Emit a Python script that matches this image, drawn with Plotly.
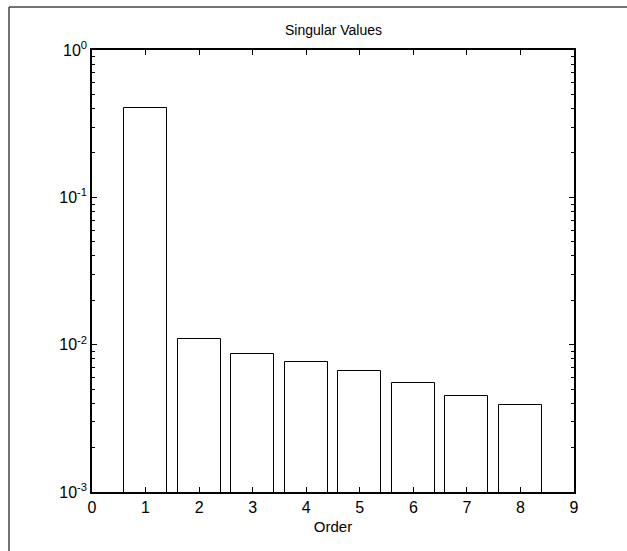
import plotly.graph_objects as go

# Singular values by order (log scale)
orders = [1, 2, 3, 4, 5, 6, 7, 8]
singular_values = [0.403, 0.0110, 0.00871, 0.00757, 0.00658, 0.00547, 0.00449, 0.00388]

y_tick_vals = [1e-3, 1e-2, 1e-1, 1e0]
y_tick_text = ["10<sup>-3</sup>", "10<sup>-2</sup>", "10<sup>-1</sup>", "10<sup>0</sup>"]
y_minor_vals = [m * d for d in (1e-3, 1e-2, 1e-1) for m in range(2, 10)]
x_tick_vals = list(range(0, 10))

W, H = 627, 551
ML, MR, MT, MB = 92, 53, 50, 59
PW, PH = W - ML - MR, H - MT - MB

font = dict(family="Liberation Sans, Arial, sans-serif", color="black")

fig = go.Figure(
    go.Bar(
        x=orders,
        y=singular_values,
        width=0.8,
        marker=dict(color="white", line=dict(color="black", width=1)),
    )
)

fig.update_layout(
    width=W,
    height=H,
    margin=dict(l=ML, r=MR, t=MT, b=MB, pad=0),
    paper_bgcolor="white",
    plot_bgcolor="white",
    showlegend=False,
    font=dict(size=16, **font),
    bargap=0,
)

fig.update_xaxes(
    range=[0, 9],
    tickvals=x_tick_vals,
    ticks="inside",
    ticklen=5,
    tickwidth=1,
    tickcolor="black",
    showline=True,
    linecolor="black",
    linewidth=1.5,
    mirror="ticks",
    showgrid=False,
    zeroline=False,
    tickfont=dict(size=16, **font),
    title=dict(text="Order", font=dict(size=15, **font), standoff=7),
)

fig.update_yaxes(
    type="log",
    range=[-3, 0],
    tickvals=y_tick_vals,
    ticktext=y_tick_text,
    ticks="inside",
    ticklen=5,
    tickwidth=1,
    tickcolor="black",
    minor=dict(tickvals=y_minor_vals, ticks="inside", ticklen=3,
               tickcolor="black", tickwidth=1, showgrid=False),
    showline=True,
    linecolor="black",
    linewidth=1.5,
    mirror="allticks",
    showgrid=False,
    zeroline=False,
    tickfont=dict(size=16, **font),
)

# Chart title
fig.add_annotation(
    text="Singular Values",
    xref="paper", yref="paper",
    x=0.5, y=1 + (MT - 30) / PH,
    xanchor="center", yanchor="middle",
    showarrow=False,
    font=dict(size=14, **font),
)

# Figure frame along the left and top edges
x_left = (9 - ML) / PW
y_top = 1 + (MT - 7) / PH
x_right = 1 + (W - ML - PW) / PW
y_bottom = -(MB + 5) / PH
fig.add_shape(type="line", xref="paper", yref="paper",
              x0=x_left, x1=x_left, y0=y_bottom, y1=y_top,
              line=dict(color="#444444", width=1.5))
fig.add_shape(type="line", xref="paper", yref="paper",
              x0=x_left, x1=x_right, y0=y_top, y1=y_top,
              line=dict(color="#444444", width=1.5))

fig.write_html("out.html")
